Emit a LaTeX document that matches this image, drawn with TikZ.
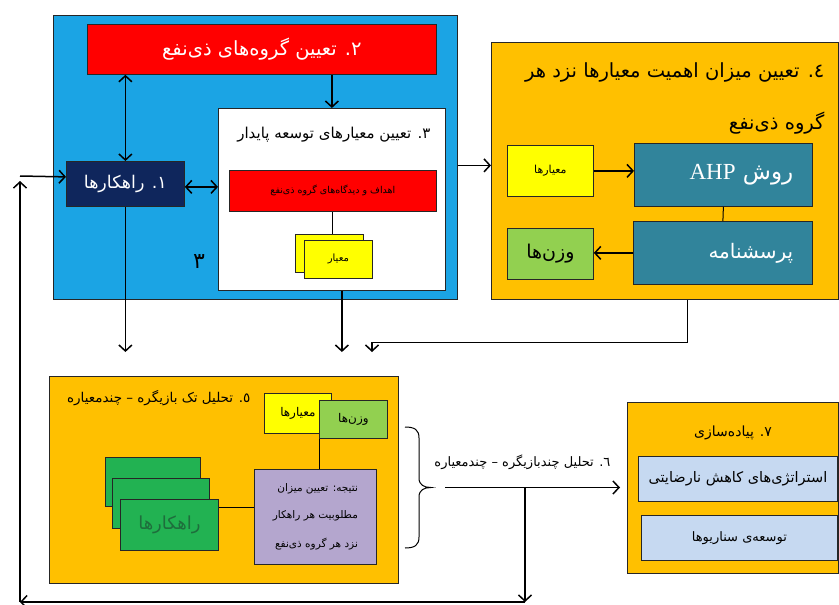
\documentclass[tikz,border=0pt]{standalone}
\usepackage{fontspec}
\usetikzlibrary{arrows.meta,calc}
\TeXXeTstate=1
\newfontfamily\arabicfont[Script=Arabic]{DejaVu Sans}
\newfontfamily\latinserif{Liberation Serif}
\newcommand{\fatx}[1]{{\arabicfont\beginR #1\endR}}
\definecolor{cyanb}{RGB}{27,164,228}
\definecolor{redc}{RGB}{255,0,0}
\definecolor{navyc}{RGB}{15,38,92}
\definecolor{orangec}{RGB}{255,192,0}
\definecolor{yellowc}{RGB}{255,255,0}
\definecolor{tealc}{RGB}{49,132,155}
\definecolor{lgreenc}{RGB}{146,208,80}
\definecolor{greenc}{RGB}{34,178,82}
\definecolor{purplec}{RGB}{180,166,206}
\definecolor{lbluec}{RGB}{198,217,241}
\definecolor{dgreentxt}{RGB}{30,110,60}
\tikzset{
  bx/.style={draw=black!85, line width=0.8pt, inner sep=0pt, anchor=north west, align=center},
  arr/.style={line width=1.5pt, -{Straight Barb[length=6pt,width=13pt]}},
  darr/.style={line width=1.5pt, {Straight Barb[length=6pt,width=13pt]}-{Straight Barb[length=6pt,width=13pt]}},
  ln/.style={line width=1pt},
  fs/.style={font=\fontsize{#1}{#1}\selectfont}
}
\begin{document}
\begin{tikzpicture}[x=1pt,y=-1pt]
\useasboundingbox[fill=white] (0,0) rectangle (839,605);

% ---- block 1-3 (blue)
\node[bx,fill=cyanb,minimum width=404pt,minimum height=284pt] (blue) at (53,15) {};
\node[bx,fill=redc,minimum width=349pt,minimum height=50pt,text=white,fs=19.5] (red2) at (87,24) {\fatx{٢. تعیین گروه‌های ذی‌نفع}};
\node[bx,fill=white,minimum width=227pt,minimum height=182pt] (white3) at (218,108) {};
\node[anchor=east,fs=15] (t3) at (434,135) {\fatx{٣. تعیین معیارهای توسعه پایدار}};
\node[bx,fill=redc,minimum width=207pt,minimum height=41pt,fs=9.5] (goals) at (229,170) {\fatx{اهداف و دیدگاه‌های گروه ذی‌نفع}};
\node[bx,fill=yellowc,minimum width=68pt,minimum height=38pt] (yb) at (295,234) {};
\node[bx,fill=yellowc,minimum width=68pt,minimum height=38pt,fs=10] (yf) at (304,240) {\fatx{معیار}};
\node[bx,fill=navyc,minimum width=118pt,minimum height=45pt,text=white,fs=17.5] (box1) at (66,161) {\fatx{١. راهکارها}};
\node[fs=22] (n3) at (199,262) {\fatx{٣}};

% ---- block 4
\node[bx,fill=orangec,minimum width=347pt,minimum height=257pt] (box4) at (491,42) {};
\node[anchor=east,fs=19.5] (t4a) at (828,72) {\fatx{٤. تعیین میزان اهمیت معیارها نزد هر}};
\node[anchor=east,fs=19.5] (t4b) at (828,123) {\fatx{گروه ذی‌نفع}};
\node[bx,fill=yellowc,minimum width=86pt,minimum height=51pt,fs=11] (y4) at (507,145) {\fatx{معیارها}};
\node[bx,fill=tealc,minimum width=178pt,minimum height=63pt,text=white,fs=23] (ahp) at (634,143) {\hspace*{36pt}\fatx{روش \beginL{\latinserif AHP}\endL}};
\node[bx,fill=tealc,minimum width=179pt,minimum height=63pt,text=white,fs=20] (quest) at (633,221) {\hspace*{56pt}\fatx{پرسشنامه}};
\node[bx,fill=lgreenc,minimum width=86pt,minimum height=51pt,fs=19] (g4) at (507,228) {\fatx{وزن‌ها}};

% ---- block 5
\node[bx,fill=orangec,minimum width=349pt,minimum height=207pt] (box5) at (49,376) {};
\node[anchor=east,fs=13.5] (t5) at (254,398) {\fatx{٥. تحلیل تک بازیگره – چندمعیاره}};
\node[bx,fill=yellowc,minimum width=67pt,minimum height=40pt,fs=12] (y5) at (264,393) {\fatx{معیارها}};
\node[bx,fill=lgreenc,minimum width=68pt,minimum height=38pt,fs=12] (g5) at (319,400) {\fatx{وزن‌ها}};
\node[bx,fill=purplec,minimum width=122pt,minimum height=95pt,fs=10.5,align=right] (pur) at (254,469) {\fatx{نتیجه: تعیین میزان}\\[16pt]\fatx{مطلوبیت هر راهکار}\\[16pt]\fatx{نزد هر گروه ذی‌نفع}};
\node[bx,fill=greenc,minimum width=95pt,minimum height=49pt] (sa) at (105,457) {};
\node[bx,fill=greenc,minimum width=97pt,minimum height=50pt] (sb) at (112,478) {};
\node[bx,fill=greenc,minimum width=98pt,minimum height=51pt,text=dgreentxt,fs=18] (sc) at (120,499) {\fatx{راهکارها}};

% ---- block 7
\node[bx,fill=orangec,minimum width=211pt,minimum height=171pt] (box7) at (627,402) {};
\node[fs=14] (t7) at (733,433) {\fatx{٧. پیاده‌سازی}};
\node[bx,fill=lbluec,minimum width=199pt,minimum height=45pt,fs=14.5] (lb1) at (638,456) {\fatx{استراتژی‌های کاهش نارضایتی}};
\node[bx,fill=lbluec,minimum width=196pt,minimum height=45pt,fs=13] (lb2) at (641,515) {\fatx{توسعه‌ی سناریوها}};

% ---- brace and label 6
\coordinate (bt) at (405,427);
\coordinate (bb) at (405,548);
\coordinate (btip) at (431,487.5);
\draw[ln] (bt) .. controls (415,427) and (419,430) .. (419,438) -- (419,478)
  .. controls (419,485) and (424,487.5) .. (btip)
  .. controls (424,487.5) and (419,490) .. (419,497) -- (419,537)
  .. controls (419,545) and (415,548) .. (bb);
\node[anchor=east,fs=13] (t6) at (614,462) {\fatx{٦. تحلیل چندبازیگره – چندمعیاره}};

% ---- helper coordinates
\coordinate (lvl) at ([yshift=24pt]box5.north);
\coordinate (j) at (372,342);
\coordinate (k) at (525,487.5);
\coordinate (br) at (525,602);
\coordinate (bl) at (20,602);
\coordinate (ul) at (20,181);
\coordinate (ur) at (20,176);

% ---- connectors
\draw[arr] (white3.north |- red2.south) -- (white3.north);
\draw[darr] (box1.north |- red2.south) -- (box1.north);
\draw[darr] ([yshift=-3pt]box1.east) -- ([yshift=-3pt]white3.west |- box1.east);
\draw[ln] (goals.south) -- (goals.south |- yb.north);
\draw[arr] (box1.south) -- (box1.south |- lvl);
\draw[arr] ([xshift=10pt]white3.south) -- ([xshift=10pt]white3.south |- lvl);
\draw[arr] ([yshift=-8pt]blue.east) -- ([yshift=-8pt]blue.east -| box4.west);
\draw[ln] ([xshift=23pt]box4.south) |- (j) -- ([yshift=-4pt]j);
\draw[arr] (j) -- (j |- lvl);
\draw[arr] (y4.east) -- (y4.east -| ahp.west);
\draw[ln] (ahp.south) -- (quest.north);
\draw[arr] (quest.west) -- (quest.west -| g4.east);
\draw[ln] (g5.south west) -- (g5.south west |- pur.north);
\draw[ln] ([yshift=-8pt]sc.north east) -- ([yshift=-8pt]sc.north east -| pur.west);
\draw[arr] ([xshift=14pt]btip) -- ([xshift=-7pt]box7.west |- btip);
\draw[arr] (k) -- (br);
\draw[arr] (br) -- (bl);
\draw[arr] (bl) -- (ul);
\draw[arr] (ur) -- ([yshift=7pt]box1.west);
\end{tikzpicture}
\end{document}
